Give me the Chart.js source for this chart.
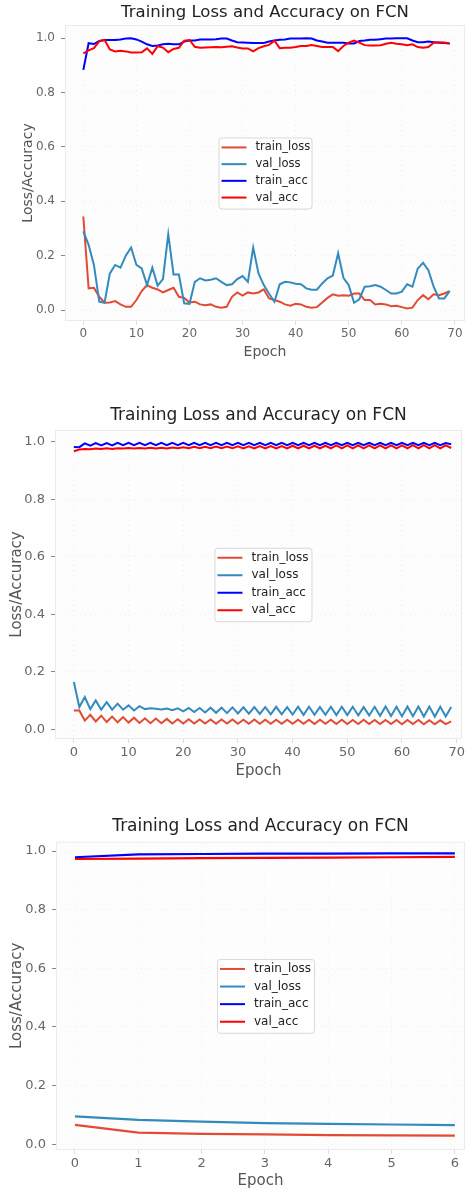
<!DOCTYPE html>
<html>
<head>
<meta charset="utf-8">
<script src="https://cdn.jsdelivr.net/npm/chart.js@4.4.1/dist/chart.umd.min.js"></script>
<style>
  html, body { margin: 0; padding: 0; background: #fff; overflow: hidden; }
  body { width: 467px; height: 1189px; position: relative; }
  canvas { position: absolute; left: 0; }
</style>
</head>
<body>
<canvas id="chart1" width="467" height="365" style="top:0px"></canvas>
<canvas id="chart2" width="467" height="385" style="top:400px"></canvas>
<canvas id="chart3" width="467" height="379" style="top:810px"></canvas>
<script>
// --- data ---
const seriesNames = ['train_loss', 'val_loss', 'train_acc', 'val_acc'];
const seriesColors = ['#E24A33', '#348ABD', '#0000FF', '#FF0000'];
const titleText = 'Training Loss and Accuracy on FCN';
const yTicks = [0.0, 0.2, 0.4, 0.6, 0.8, 1.0];
const xTicks70 = [0, 10, 20, 30, 40, 50, 60, 70];
const xTicks7 = [0, 1, 2, 3, 4, 5, 6];

const epochs70 = Array.from({length: 70}, (_, i) => i);
const epochs7 = [0, 1, 2, 3, 4, 5, 6];

// plot 1
const trainLoss1 = [
  0.344, 0.080, 0.082, 0.049, 0.027, 0.028, 0.033, 0.021, 0.012, 0.012,
  0.037, 0.070, 0.092, 0.082, 0.076, 0.065, 0.074, 0.082, 0.049, 0.045,
  0.028, 0.031, 0.021, 0.018, 0.021, 0.012, 0.009, 0.012, 0.049, 0.065,
  0.053, 0.065, 0.061, 0.065, 0.076, 0.043, 0.037, 0.031, 0.021, 0.016,
  0.023, 0.021, 0.012, 0.009, 0.011, 0.028, 0.045, 0.058, 0.053, 0.055,
  0.053, 0.061, 0.061, 0.037, 0.037, 0.021, 0.023, 0.021, 0.014, 0.016,
  0.011, 0.006, 0.009, 0.037, 0.055, 0.040, 0.058, 0.055, 0.061, 0.070];
const valLoss1 = [
  0.289, 0.240, 0.166, 0.031, 0.027, 0.135, 0.166, 0.156, 0.200, 0.230,
  0.166, 0.153, 0.092, 0.156, 0.090, 0.114, 0.279, 0.131, 0.131, 0.025,
  0.023, 0.104, 0.117, 0.109, 0.112, 0.117, 0.104, 0.092, 0.095, 0.114,
  0.125, 0.104, 0.230, 0.135, 0.092, 0.060, 0.031, 0.095, 0.104, 0.102,
  0.097, 0.095, 0.080, 0.075, 0.075, 0.098, 0.117, 0.127, 0.209, 0.119,
  0.092, 0.027, 0.040, 0.086, 0.088, 0.092, 0.086, 0.074, 0.061, 0.061,
  0.068, 0.095, 0.086, 0.153, 0.174, 0.147, 0.086, 0.043, 0.043, 0.070];
const trainAcc1 = [
  0.883, 0.981, 0.978, 0.989, 0.993, 0.993, 0.993, 0.995, 0.998, 0.999,
  0.995, 0.987, 0.977, 0.971, 0.973, 0.977, 0.979, 0.977, 0.977, 0.987,
  0.991, 0.991, 0.995, 0.995, 0.995, 0.996, 0.998, 0.998, 0.991, 0.985,
  0.984, 0.983, 0.982, 0.982, 0.982, 0.987, 0.991, 0.994, 0.995, 0.998,
  0.998, 0.998, 0.999, 0.998, 0.991, 0.987, 0.983, 0.983, 0.983, 0.983,
  0.980, 0.980, 0.989, 0.991, 0.994, 0.994, 0.996, 0.998, 0.998, 0.999,
  0.999, 0.999, 0.991, 0.985, 0.985, 0.987, 0.985, 0.983, 0.982, 0.980];
const valAcc1 = [
  0.944, 0.955, 0.963, 0.988, 0.993, 0.958, 0.951, 0.953, 0.951, 0.947,
  0.947, 0.948, 0.962, 0.942, 0.970, 0.965, 0.948, 0.960, 0.964, 0.990,
  0.993, 0.968, 0.964, 0.965, 0.966, 0.967, 0.966, 0.968, 0.970, 0.965,
  0.962, 0.962, 0.951, 0.963, 0.970, 0.975, 0.990, 0.963, 0.964, 0.964,
  0.967, 0.971, 0.971, 0.974, 0.971, 0.967, 0.967, 0.967, 0.952, 0.971,
  0.983, 0.991, 0.983, 0.974, 0.973, 0.973, 0.974, 0.979, 0.983, 0.979,
  0.977, 0.974, 0.977, 0.967, 0.964, 0.967, 0.983, 0.985, 0.984, 0.980];

// plot 2
const trainLoss2 = [
  0.065, 0.065, 0.030, 0.050, 0.027, 0.047, 0.025, 0.044, 0.024, 0.042,
  0.023, 0.040, 0.022, 0.038, 0.021, 0.037, 0.021, 0.036, 0.020, 0.035,
  0.020, 0.035, 0.020, 0.034, 0.020, 0.034, 0.019, 0.034, 0.020, 0.034,
  0.019, 0.033, 0.019, 0.034, 0.019, 0.033, 0.019, 0.033, 0.019, 0.033,
  0.019, 0.033, 0.019, 0.033, 0.018, 0.033, 0.019, 0.033, 0.018, 0.033,
  0.018, 0.032, 0.018, 0.033, 0.018, 0.032, 0.018, 0.032, 0.018, 0.032,
  0.017, 0.032, 0.018, 0.032, 0.017, 0.031, 0.017, 0.031, 0.018, 0.027];
const valLoss2 = [
  0.164, 0.077, 0.112, 0.070, 0.100, 0.068, 0.094, 0.068, 0.089, 0.068,
  0.083, 0.065, 0.080, 0.070, 0.073, 0.071, 0.069, 0.072, 0.066, 0.073,
  0.062, 0.074, 0.060, 0.074, 0.058, 0.075, 0.057, 0.075, 0.056, 0.076,
  0.055, 0.076, 0.054, 0.077, 0.053, 0.077, 0.052, 0.078, 0.052, 0.077,
  0.051, 0.078, 0.050, 0.078, 0.050, 0.077, 0.050, 0.078, 0.049, 0.078,
  0.049, 0.078, 0.048, 0.077, 0.048, 0.078, 0.047, 0.079, 0.046, 0.078,
  0.045, 0.079, 0.045, 0.079, 0.044, 0.079, 0.044, 0.078, 0.044, 0.077];
const trainAcc2 = [
  0.982, 0.981, 0.994, 0.986, 0.995, 0.987, 0.995, 0.987, 0.996, 0.988,
  0.996, 0.988, 0.996, 0.988, 0.996, 0.988, 0.996, 0.988, 0.996, 0.988,
  0.996, 0.988, 0.996, 0.988, 0.996, 0.988, 0.996, 0.988, 0.996, 0.988,
  0.996, 0.988, 0.996, 0.988, 0.996, 0.988, 0.996, 0.988, 0.996, 0.988,
  0.996, 0.988, 0.996, 0.988, 0.996, 0.988, 0.996, 0.988, 0.996, 0.988,
  0.996, 0.988, 0.996, 0.988, 0.996, 0.988, 0.996, 0.988, 0.996, 0.988,
  0.996, 0.988, 0.996, 0.988, 0.996, 0.988, 0.996, 0.988, 0.995, 0.991];
const valAcc2 = [
  0.967, 0.973, 0.975, 0.974, 0.976, 0.975, 0.977, 0.975, 0.977, 0.976,
  0.978, 0.976, 0.978, 0.976, 0.979, 0.976, 0.979, 0.976, 0.980, 0.977,
  0.981, 0.977, 0.982, 0.977, 0.982, 0.977, 0.983, 0.977, 0.983, 0.977,
  0.984, 0.977, 0.984, 0.977, 0.985, 0.977, 0.985, 0.977, 0.985, 0.977,
  0.986, 0.977, 0.986, 0.977, 0.986, 0.977, 0.986, 0.977, 0.987, 0.977,
  0.987, 0.977, 0.987, 0.977, 0.987, 0.977, 0.987, 0.977, 0.987, 0.977,
  0.987, 0.977, 0.988, 0.977, 0.988, 0.977, 0.988, 0.977, 0.987, 0.978];

// plot 3
const trainLoss3 = [0.066, 0.039, 0.035, 0.033, 0.031, 0.030, 0.029];
const valLoss3 = [0.095, 0.083, 0.077, 0.072, 0.069, 0.067, 0.065];
const trainAcc3 = [0.979, 0.989, 0.990, 0.991, 0.991, 0.992, 0.992];
const valAcc3 = [0.973, 0.974, 0.976, 0.977, 0.978, 0.979, 0.980];

Chart.defaults.font.family = "'DejaVu Sans', sans-serif";
Chart.defaults.color = '#555';

// light frame + background of the plot box
const plotFrame = {
  id: 'plotFrame',
  beforeDraw(chart) {
    const a = chart.chartArea, ctx = chart.ctx;
    ctx.save();
    ctx.fillStyle = '#fdfdfd';
    ctx.fillRect(a.left, a.top, a.right - a.left, a.bottom - a.top);
    ctx.restore();
  },
  beforeDatasetsDraw(chart) {
    const a = chart.chartArea, ctx = chart.ctx;
    ctx.save();
    ctx.strokeStyle = '#ebebeb';
    ctx.lineWidth = 1;
    ctx.strokeRect(a.left + 0.5, a.top + 0.5, a.right - a.left - 1, a.bottom - a.top - 1);
    ctx.restore();
  }
};

// legend box in the middle of the plot, like matplotlib loc='center'
const midLegend = {
  id: 'midLegend',
  afterDraw(chart, args, opts) {
    const a = chart.chartArea, ctx = chart.ctx;
    const sets = chart.data.datasets;
    const gap = opts.rowGap, w = opts.width;
    const h = gap * (sets.length - 1) + 21;
    const cx = (a.left + a.right) / 2 + opts.shiftX;
    const cy = (a.top + a.bottom) / 2;
    const left = cx - w / 2, top = cy - h / 2;
    ctx.save();
    ctx.beginPath();
    ctx.roundRect(left + 0.5, top + 0.5, w, h, 3);
    ctx.fillStyle = 'rgba(255,255,255,0.85)';
    ctx.fill();
    ctx.strokeStyle = '#d8d8d8';
    ctx.lineWidth = 1;
    ctx.stroke();
    ctx.font = opts.fontSize + "px 'DejaVu Sans'";
    ctx.textBaseline = 'middle';
    ctx.fillStyle = '#222';
    sets.forEach((ds, i) => {
      const y = top + 10 + i * gap;
      ctx.beginPath();
      ctx.strokeStyle = ds.borderColor;
      ctx.lineWidth = 2;
      ctx.moveTo(left + 3, y);
      ctx.lineTo(left + 28, y);
      ctx.stroke();
      ctx.fillText(ds.label, left + 37, y);
    });
    ctx.restore();
  }
};

function makeChart(id, epochs, values, lay) {
  const datasets = values.map((vals, k) => ({
    label: seriesNames[k],
    data: vals.map((v, i) => ({x: epochs[i], y: v})),
    borderColor: seriesColors[k],
    backgroundColor: seriesColors[k],
    borderWidth: lay.lineWidth,
    pointRadius: 0,
    tension: 0,
    fill: false,
    order: values.length - k
  }));
  return new Chart(document.getElementById(id), {
    type: 'line',
    data: {datasets},
    plugins: [plotFrame, midLegend],
    options: {
      responsive: false,
      animation: false,
      layout: {padding: {left: 0, right: lay.padRight, top: 0, bottom: 0}},
      plugins: {
        legend: {display: false},
        tooltip: {enabled: false},
        title: {
          display: true,
          text: titleText,
          fullSize: false,
          color: '#222',
          font: {size: lay.titleSize, weight: 'normal', lineHeight: 1.2},
          padding: {top: lay.titleTop, bottom: lay.titleBottom}
        },
        midLegend: {rowGap: lay.rowGap, width: lay.legendW, fontSize: lay.legendFont, shiftX: lay.legendShift}
      },
      scales: {
        x: {
          type: 'linear',
          min: lay.xMin, max: lay.xMax,
          afterBuildTicks: s => { s.ticks = lay.xTicks.map(v => ({value: v})); },
          afterFit: s => { s.height = lay.xH; },
          ticks: {font: {size: lay.tickSize}, padding: 2, color: '#666', maxRotation: 0,
                  callback: v => String(v)},
          grid: {color: 'rgba(0,0,0,0.055)', tickColor: '#ddd', tickLength: 4},
          border: {display: false, dash: [1, 4]},
          title: {display: true, text: 'Epoch', color: '#555',
                  font: {size: lay.labelSize, lineHeight: 1}, padding: {top: 0, bottom: lay.xTitlePad}}
        },
        y: {
          min: lay.yMin, max: lay.yMax,
          afterBuildTicks: s => { s.ticks = yTicks.map(v => ({value: v})); },
          afterFit: s => { s.width = lay.yW; },
          ticks: {font: {size: lay.tickSize}, padding: 6, color: '#666',
                  callback: v => v.toFixed(1)},
          grid: {color: 'rgba(0,0,0,0.055)', tickColor: '#888', tickLength: 4},
          border: {display: false, dash: [1, 4]},
          title: {display: true, text: 'Loss/Accuracy', color: '#555',
                  font: {size: lay.labelSize, lineHeight: 1}, padding: {top: lay.yTitlePad, bottom: 0}}
        }
      }
    }
  });
}

makeChart('chart1', epochs70, [trainLoss1, valLoss1, trainAcc1, valAcc1], {
  xMin: -3.45, xMax: 71.9, yMin: -0.04, yMax: 1.048, xTicks: xTicks70,
  padRight: 2, yW: 65, xH: 44, titleSize: 16.5, titleTop: 3, titleBottom: 2.2,
  tickSize: 12, labelSize: 14, xTitlePad: 6, yTitlePad: 21, lineWidth: 2,
  rowGap: 16.7, legendW: 93, legendFont: 11.5, legendShift: 0
});
makeChart('chart2', epochs70, [trainLoss2, valLoss2, trainAcc2, valAcc2], {
  xMin: -3.45, xMax: 70.96, yMin: -0.034, yMax: 1.0407, xTicks: xTicks70,
  padRight: 2, yW: 55, xH: 46, titleSize: 17, titleTop: 5.8, titleBottom: 3.8,
  tickSize: 13, labelSize: 15, xTitlePad: 6.8, yTitlePad: 9.5, lineWidth: 2,
  rowGap: 17.5, legendW: 97, legendFont: 12, legendShift: 4.5
});
makeChart('chart3', epochs7, [trainLoss3, valLoss3, trainAcc3, valAcc3], {
  xMin: -0.3, xMax: 6.16, yMin: -0.02, yMax: 1.032, xTicks: xTicks7,
  padRight: 2, yW: 56, xH: 39, titleSize: 17, titleTop: 6.5, titleBottom: 4.8,
  tickSize: 13, labelSize: 15, xTitlePad: 0, yTitlePad: 10, lineWidth: 2.2,
  rowGap: 17.6, legendW: 97, legendFont: 12, legendShift: 5
});
</script>
</body>
</html>
